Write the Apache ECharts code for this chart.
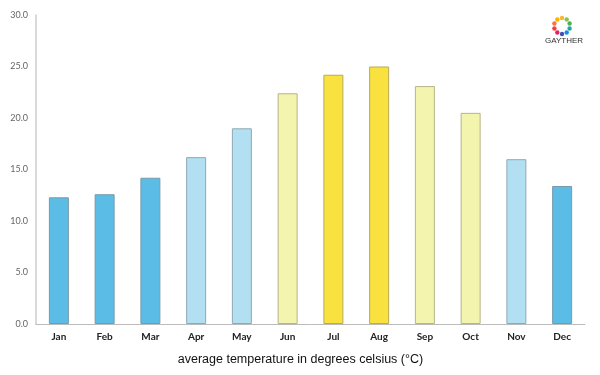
<!DOCTYPE html>
<html>
<head>
<meta charset="utf-8">
<script src="https://cdn.jsdelivr.net/npm/echarts@6/dist/echarts.min.js"></script>
<style>
html, body { margin: 0; padding: 0; background: #fff; }
#main { width: 600px; height: 375px; }
</style>
</head>
<body>
<div id="main"></div>
<script>
var months = ['Jan', 'Feb', 'Mar', 'Apr', 'May', 'Jun', 'Jul', 'Aug', 'Sep', 'Oct', 'Nov', 'Dec'];
var temps = [12.3, 12.6, 14.2, 16.2, 19.0, 22.4, 24.2, 25.0, 23.1, 20.5, 16.0, 13.4];
// colour group per month: 0 cold, 1 mild, 2 warm, 3 hot
var tempGroup = [0, 0, 0, 1, 1, 2, 3, 3, 2, 2, 1, 0];
var groupColors = ['#5bbde6', '#b2dff1', '#f3f4ad', '#f9e23f'];
var groupBorders = ['#7a9aa8', '#8fa9b4', '#b5b58a', '#b9aa55'];
var yTicks = [0, 5, 10, 15, 20, 25, 30];

var logoColors = ['#f7b731', '#8bc34a', '#4caf50', '#26a69a', '#1e88e5', '#3f51b5', '#e91e63', '#f44336', '#ff7043', '#ffb300'];

var myChart = echarts.init(document.getElementById('main'));

var barData = [];
for (var i = 0; i < temps.length; i++) {
    barData.push({
        value: temps[i],
        itemStyle: {
            color: groupColors[tempGroup[i]],
            borderColor: groupBorders[tempGroup[i]],
            borderWidth: 1
        }
    });
}

// little ring for the logo
var logoParts = [];
for (var k = 0; k < logoColors.length; k++) {
    var a = -Math.PI / 2 + k * 2 * Math.PI / logoColors.length;
    logoParts.push({
        type: 'circle',
        shape: { cx: 562 + 8 * Math.cos(a), cy: 26 + 8 * Math.sin(a), r: 2.2 },
        style: { fill: logoColors[k] },
        silent: true
    });
}
logoParts.push({
    type: 'text',
    left: 545,
    top: 37,
    style: { text: 'GAYTHER', fill: '#333', font: '8px "Liberation Sans"' },
    silent: true
});

var option = {
    animation: false,
    backgroundColor: '#fff',
    grid: {
        left: 36,
        right: 15,
        top: 15,
        bottom: 51,
        containLabel: false
    },
    xAxis: {
        type: 'category',
        data: months,
        axisLine: { lineStyle: { color: '#bbb', width: 1 } },
        axisTick: { show: false },
        axisLabel: {
            color: '#222',
            fontSize: 10,
            fontWeight: 'bold',
            fontFamily: 'Lato',
            margin: 8
        },
        name: 'average temperature in degrees celsius (°C)',
        nameLocation: 'middle',
        nameGap: 29,
        nameTextStyle: {
            color: '#111',
            fontSize: 12.5,
            fontFamily: 'Liberation Sans',
            padding: [0, 20, 0, 0]
        }
    },
    yAxis: {
        type: 'value',
        min: yTicks[0],
        max: yTicks[yTicks.length - 1],
        interval: 5,
        axisLine: { show: true, lineStyle: { color: '#ccc', width: 1.5 } },
        axisTick: { show: false },
        splitLine: { show: false },
        axisLabel: {
            color: '#666',
            fontSize: 9,
            fontFamily: 'Lato',
            margin: 8,
            formatter: function (v) { return v.toFixed(1); }
        }
    },
    graphic: logoParts,
    series: [{
        type: 'bar',
        barWidth: 20,
        data: barData
    }]
};

myChart.setOption(option);
</script>
</body>
</html>
